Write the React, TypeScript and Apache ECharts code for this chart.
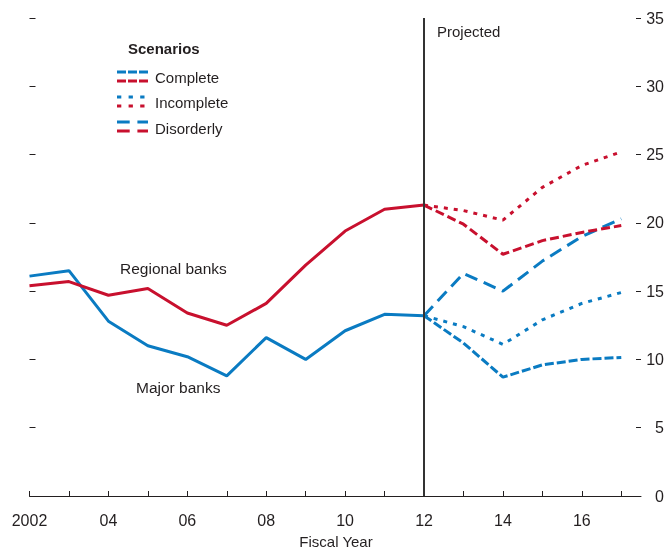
import React, { useEffect, useRef } from "react";
import * as echarts from "echarts";

const years = [2002, 2003, 2004, 2005, 2006, 2007, 2008, 2009, 2010, 2011, 2012];
const majorBanks = [16.1, 16.5, 12.8, 11.0, 10.2, 8.8, 11.6, 10.0, 12.1, 13.3, 13.2];
const regionalBanks = [15.4, 15.7, 14.7, 15.2, 13.4, 12.5, 14.1, 16.9, 19.4, 21.0, 21.3];

const projYears = [2012, 2013, 2014, 2015, 2016, 2017];
const majorComplete = [13.2, 11.2, 8.7, 9.6, 10.0, 10.15];
const majorIncomplete = [13.2, 12.4, 11.1, 12.9, 14.1, 14.9];
const majorDisorderly = [13.2, 16.3, 15.0, 17.2, 19.0, 20.3];
const regionalComplete = [21.3, 19.9, 17.7, 18.7, 19.3, 19.8];
const regionalIncomplete = [21.3, 20.9, 20.2, 22.6, 24.2, 25.2];

const xTicks = [2002, 2003, 2004, 2005, 2006, 2007, 2008, 2009, 2010, 2011, 2012, 2013, 2014, 2015, 2016, 2017];
const yTicksRight = [0, 5, 10, 15, 20, 25, 30, 35];
const yTicksLeft = [5, 10, 15, 20, 25, 30, 35];

const BLUE = "#0a7bc2";
const RED = "#c8102e";
const INK = "#231f20";
const FONT = "'Liberation Sans', Arial, sans-serif";

const zip = (xs: number[], ys: number[]) => xs.map((x, i) => [x, ys[i]]);

export default function App() {
  const ref = useRef<HTMLDivElement>(null);
  useEffect(() => {
    if (!ref.current) return;
    const chart = echarts.init(ref.current, undefined, { renderer: "svg" });
    const lineSeries = (name: string, xs: number[], ys: number[], color: string, dash: any) => ({
      name,
      type: "line",
      data: zip(xs, ys),
      symbol: "none",
      lineStyle: { color, width: 3, type: dash },
      z: 3,
    });
    const text = (t: string, x: number, y: number, opts: any = {}) => ({
      type: "text",
      x,
      y,
      style: {
        text: t,
        fill: INK,
        fontSize: 15,
        fontFamily: FONT,
        textVerticalAlign: "middle",
        verticalAlign: "middle",
        ...opts,
      },
    });
    const legLine = (y: number, color: string, dash: number[]) => ({
      type: "line",
      shape: { x1: 117, y1: y, x2: 148, y2: y },
      style: { stroke: color, lineWidth: 3, lineDash: dash },
    });
    chart.setOption({
      animation: false,
      textStyle: { fontFamily: FONT },
      grid: { left: 29.5, right: 26, top: 18, bottom: 54, containLabel: false },
      xAxis: {
        type: "value",
        min: 2002,
        max: 2017.5,
        interval: 1,
        splitLine: { show: false },
        axisLine: { lineStyle: { color: INK, width: 1 } },
        axisTick: { inside: true, length: 5, lineStyle: { color: INK }, customValues: xTicks },
        axisLabel: {
          customValues: xTicks.filter((v) => v % 2 === 0),
          formatter: (v: number) => (v === 2002 ? "2002" : String(v % 100).padStart(2, "0")),
          color: INK,
          fontSize: 16,
          fontFamily: FONT,
          margin: 16,
        },
      },
      yAxis: [
        {
          type: "value",
          position: "left",
          min: 0,
          max: 35,
          interval: 5,
          splitLine: { show: false },
          axisLine: { show: false },
          axisTick: { show: true, inside: true, length: 6, lineStyle: { color: INK }, customValues: yTicksLeft },
          axisLabel: { show: false },
        },
        {
          type: "value",
          position: "right",
          min: 0,
          max: 35,
          interval: 5,
          splitLine: { show: false },
          axisLine: { show: false },
          axisTick: { show: true, inside: true, length: 5, lineStyle: { color: INK }, customValues: yTicksRight },
          axisLabel: {
            customValues: yTicksRight,
            color: INK,
            fontSize: 16,
            fontFamily: FONT,
            align: "right",
            margin: 23,
          },
        },
      ],
      series: [
        {
          ...lineSeries("Major banks", years, majorBanks, BLUE, "solid"),
          markLine: {
            silent: true,
            symbol: "none",
            label: { show: false },
            lineStyle: { color: "#333", width: 2, type: "solid" },
            data: [{ xAxis: 2012 }],
            z: 5,
          },
        },
        lineSeries("Regional banks", years, regionalBanks, RED, "solid"),
        lineSeries("Major complete", projYears, majorComplete, BLUE, [9, 3]),
        lineSeries("Major incomplete", projYears, majorIncomplete, BLUE, [4, 6]),
        lineSeries("Major disorderly", projYears, majorDisorderly, BLUE, [13, 7]),
        lineSeries("Regional complete", projYears, regionalComplete, RED, [9, 4]),
        lineSeries("Regional incomplete", projYears, regionalIncomplete, RED, [4, 6]),
      ],
      graphic: [
        text("Scenarios", 128, 48, { fontWeight: "bold" }),
        legLine(72, BLUE, [9, 2]),
        legLine(81, RED, [9, 2]),
        text("Complete", 155, 77),
        legLine(97, BLUE, [4.3, 7.3]),
        legLine(106, RED, [4.3, 7.3]),
        text("Incomplete", 155, 102),
        legLine(122, BLUE, [12.7, 7.7]),
        legLine(131, RED, [12.7, 7.7]),
        text("Disorderly", 155, 128),
        text("Projected", 437, 31),
        text("Regional banks", 120, 268, { fontSize: 15.5 }),
        text("Major banks", 136, 387, { fontSize: 15.5 }),
        text("Fiscal Year", 336, 541, { textAlign: "center", align: "center" }),
      ],
    });
    return () => chart.dispose();
  }, []);
  return <div ref={ref} style={{ position: "fixed", left: 0, top: 0, width: 667, height: 550 }} />;
}
